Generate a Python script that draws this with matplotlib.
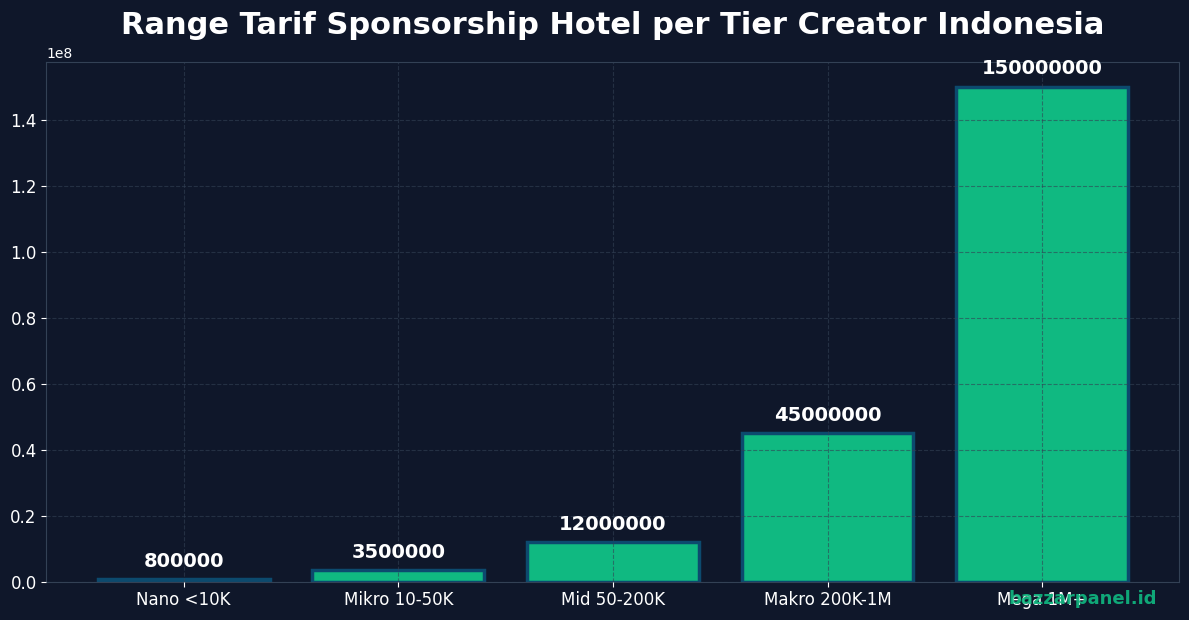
import matplotlib
matplotlib.use("Agg")
import matplotlib.pyplot as plt

categories = ["Nano <10K", "Mikro 10-50K", "Mid 50-200K", "Makro 200K-1M", "Mega 1M+"]
values = [800000, 3500000, 12000000, 45000000, 150000000]

bg = "#0f172a"
fig, ax = plt.subplots(figsize=(11.89, 6.2), dpi=100)
fig.patch.set_facecolor(bg)
ax.set_facecolor(bg)
bars = ax.bar(categories, values, color="#10b981", edgecolor="#0c4a6e", linewidth=2.5, width=0.8)
ax.grid(True, linestyle="--", color="#334155", alpha=0.6, linewidth=0.8)
ax.set_axisbelow(False)
for b, v in zip(bars, values):
    ax.text(b.get_x() + b.get_width() / 2, v + 2.5e6, str(v), ha="center", va="bottom",
            color="white", fontsize=14, fontweight="bold")
ax.set_title("Range Tarif Sponsorship Hotel per Tier Creator Indonesia", color="white",
             fontsize=22, fontweight="bold", pad=20)
ax.tick_params(colors="white", labelsize=12)
ax.yaxis.get_offset_text().set_color("white")
for s in ax.spines.values():
    s.set_color("#334155")
fig.text(0.973, 0.02, "bazzarpanel.id", color="#10b981", fontsize=13, fontweight="bold",
         ha="right", va="bottom", alpha=0.9)
fig.subplots_adjust(left=0.039, right=0.992, top=0.9, bottom=0.062)
fig.savefig("out.png", facecolor=bg)
